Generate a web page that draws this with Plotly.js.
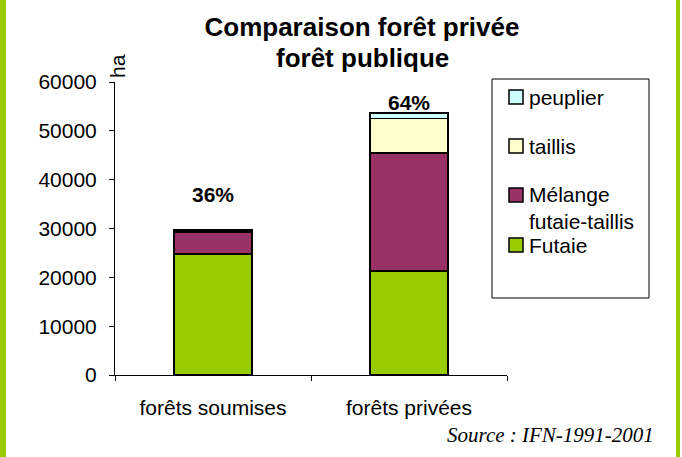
<!DOCTYPE html>
<html><head><meta charset="utf-8">
<script src="https://cdn.plot.ly/plotly-3.0.1.min.js"></script>
<style>html,body{margin:0;padding:0;background:#fff}#chart{width:682px;height:457px}</style>
</head><body><div id="chart"></div>
<script>
var categories = ["forêts soumises", "forêts privées"];
var futaie = [24800, 21300];
var melange = [4500, 24200];
var taillis = [300, 7000];
var peuplier = [200, 1200];
var percentLabels = ["36%", "64%"];
var seriesNames = ["peuplier", "taillis", "Mélange<br>futaie-taillis", "Futaie"];
var seriesColors = ["#CCFFFF", "#FFFFCC", "#993366", "#99CC00"];

var L = 115, T = 82, W = 392, H = 293;
function px(x){return (x - L)/W;}
function py(y){return (T + H - y)/H;}

var font = "Liberation Sans, Arial, sans-serif";
var FS = 21;
function bar(name, vals, color){
  return {type:"bar", name:name, x:categories, y:vals, width:0.4,
    marker:{color:color, line:{color:"#000", width:1.5}}, showlegend:false, hoverinfo:"y"};
}
var data = [
  bar("Futaie", futaie, seriesColors[3]),
  bar("Mélange futaie-taillis", melange, seriesColors[2]),
  bar("taillis", taillis, seriesColors[1]),
  bar("peuplier", peuplier, seriesColors[0])
];

var totals = categories.map(function(c,i){return futaie[i]+melange[i]+taillis[i]+peuplier[i];});
var pctShift = [35, 10];
var annotations = [];
percentLabels.forEach(function(t,i){
  annotations.push({x:categories[i], y:totals[i], xref:"x", yref:"y", text:"<b>"+t+"</b>",
    showarrow:false, yanchor:"middle", yshift:pctShift[i], font:{family:font, size:FS, color:"#000"}});
});
annotations.push({xref:"paper", yref:"paper", x:px(362), y:py(58), text:"<b>forêt publique</b>",
  showarrow:false, xanchor:"center", yanchor:"middle", font:{family:font, size:26, color:"#000"}});
annotations.push({xref:"paper", yref:"paper", x:px(117), y:py(66), text:"ha", textangle:-90,
  showarrow:false, xanchor:"center", yanchor:"middle", font:{family:font, size:FS, color:"#000"}});
annotations.push({xref:"paper", yref:"paper", x:px(656), y:py(435), text:"<i>Source : IFN-1991-2001</i>",
  showarrow:false, xanchor:"right", yanchor:"middle", font:{family:"Liberation Serif, Times New Roman, serif", size:FS, color:"#000"}});

var shapes = [
  {type:"rect", xref:"paper", yref:"paper", x0:px(0), x1:px(6), y0:py(0), y1:py(457), fillcolor:"#99CC00", line:{width:0}, layer:"below"},
  {type:"rect", xref:"paper", yref:"paper", x0:px(676), x1:px(680), y0:py(0), y1:py(457), fillcolor:"#99CC00", line:{width:0}, layer:"below"},
  {type:"rect", xref:"paper", yref:"paper", x0:px(492), x1:px(649), y0:py(298), y1:py(79), fillcolor:"#fff", line:{color:"#000", width:1}}
];
var legendY = [97, 146, 195, 245];
seriesNames.forEach(function(n,i){
  var cy = legendY[i];
  var nl = n.split("<br>").length;
  shapes.push({type:"rect", xref:"paper", yref:"paper", x0:px(509), x1:px(523), y0:py(cy+7), y1:py(cy-7),
    fillcolor:seriesColors[i], line:{color:"#000", width:1.5}});
  annotations.push({xref:"paper", yref:"paper", x:px(527), y:py(cy + (nl-1)*12.5), text:n, showarrow:false,
    xanchor:"left", yanchor:"middle", align:"left", font:{family:font, size:FS, color:"#000"}});
});

var layout = {
  width:682, height:457,
  margin:{l:L, r:682-L-W, t:T, b:457-T-H, pad:0},
  paper_bgcolor:"#fff", plot_bgcolor:"#fff",
  barmode:"stack",
  title:{text:"<b>Comparaison forêt privée</b>", x:362/682, xanchor:"center", y:1-27/457, yanchor:"middle",
    font:{family:font, size:26, color:"#000"}},
  xaxis:{type:"category", range:[-0.5,1.5], showline:true, linecolor:"#000", linewidth:1,
    ticks:"outside", tickson:"boundaries", ticklen:5, tickcolor:"#000", showgrid:false,
    tickfont:{family:font, size:FS, color:"#000"}, ticklabelstandoff:14, fixedrange:true},
  yaxis:{range:[0,60000], dtick:10000, showline:true, linecolor:"#000", linewidth:1,
    ticks:"outside", ticklen:5, tickcolor:"#000", showgrid:false, zeroline:false,
    tickformat:"d", tickfont:{family:font, size:FS, color:"#000"}, ticklabelstandoff:8, fixedrange:true},
  showlegend:false,
  shapes:shapes, annotations:annotations
};
Plotly.newPlot("chart", data, layout, {displayModeBar:false, staticPlot:true});
</script></body></html>
